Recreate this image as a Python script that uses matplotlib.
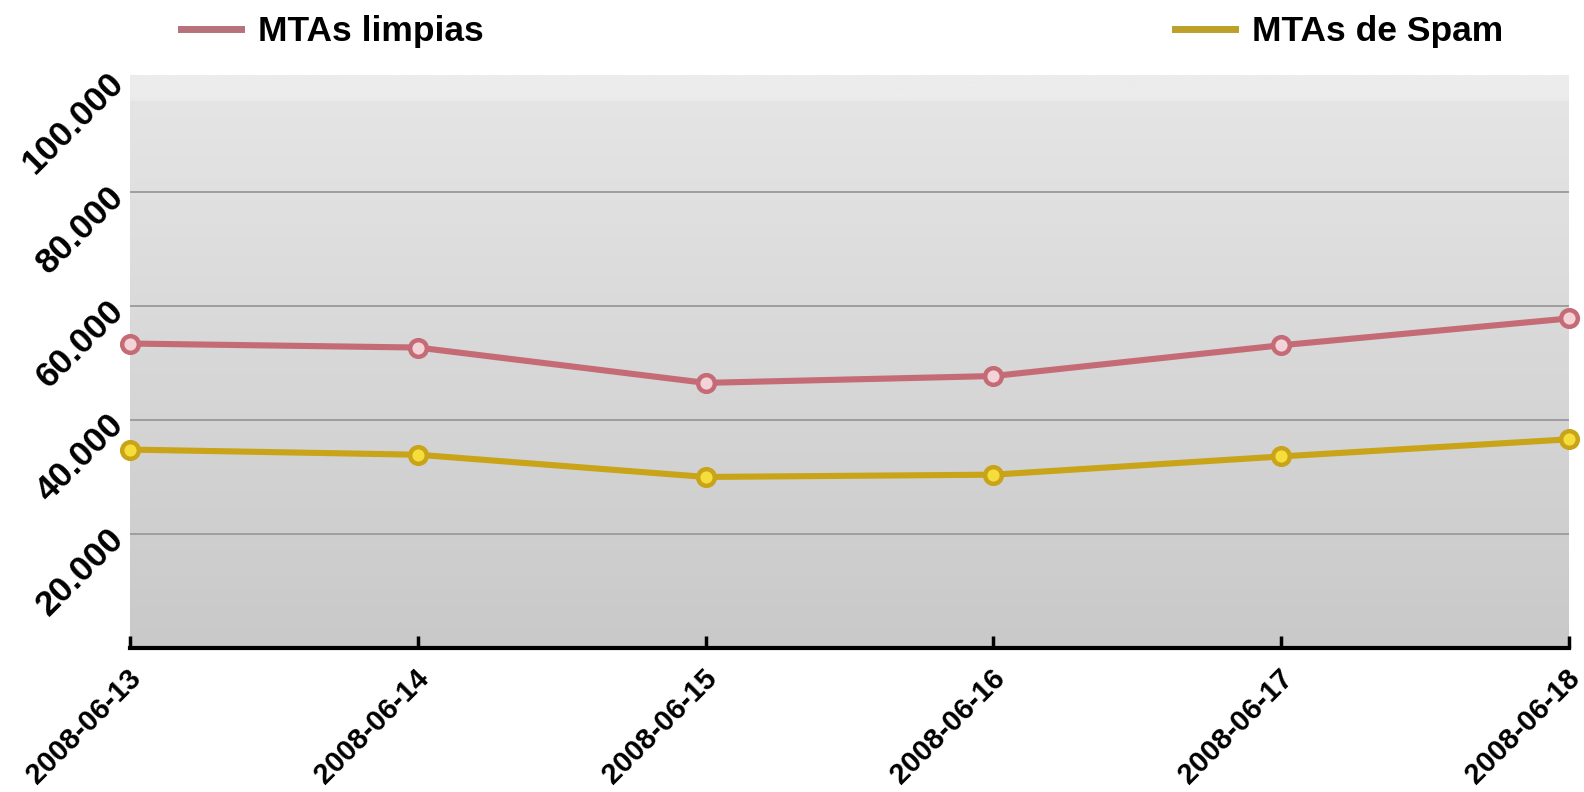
import numpy as np
import matplotlib
matplotlib.use("Agg")
import matplotlib.pyplot as plt
from matplotlib.lines import Line2D
from matplotlib.colors import LinearSegmentedColormap
from matplotlib.transforms import ScaledTranslation

dates = ["2008-06-13", "2008-06-14", "2008-06-15", "2008-06-16", "2008-06-17", "2008-06-18"]
limpias = [53400, 52700, 46500, 47700, 53100, 57800]
spam = [34800, 33900, 30000, 30400, 33600, 36600]
yticks = [20000, 40000, 60000, 80000, 100000]
ytick_labels = ["20.000", "40.000", "60.000", "80.000", "100.000"]
series_names = ["MTAs limpias", "MTAs de Spam"]

red = "#c46b76"
red_face = "#f3d3d8"
yel = "#c9a418"
yel_face = "#f5de3c"

plt.rcParams['font.family'] = ['Liberation Sans', 'DejaVu Sans']

fig = plt.figure(figsize=(15.84, 7.92), dpi=100)
ax = fig.add_axes([130/1584, 1-648/792, (1569-130)/1584, (648-75)/792])

x = np.arange(len(dates))
ax.set_xlim(0, len(dates) - 1)
ax.set_ylim(0, 100500)

# gradient background
cmap = LinearSegmentedColormap.from_list("bg", [(0, "#c9c9c9"), (0.96, "#e5e5e5"), (0.961, "#ececec"), (1, "#ececec")])
grad = np.linspace(0, 1, 400).reshape(-1, 1)
ax.imshow(grad, extent=[0, 1, 0, 1], transform=ax.transAxes, aspect='auto', cmap=cmap, origin='lower', zorder=0)

for yv in yticks[:-1]:
    ax.axhline(yv, color="#9e9e9e", lw=1.4, zorder=1)

ax.plot(x, limpias, color=red, lw=4.4, marker='o', ms=12, mfc=red_face, mec=red, mew=3.2, zorder=3, clip_on=False)
ax.plot(x, spam, color=yel, lw=4.4, marker='o', ms=12, mfc=yel_face, mec=yel, mew=3.2, zorder=3, clip_on=False)

for s in ['left', 'right', 'top']:
    ax.spines[s].set_visible(False)
ax.spines['bottom'].set_linewidth(3)
ax.spines['bottom'].set_color('black')

ax.set_xticks(x)
ax.set_xticklabels(dates, rotation=45, ha='right', va='center', rotation_mode='anchor',
                   fontsize=21, fontweight='bold')
ax.tick_params(axis='x', direction='in', length=9, width=2.5, color='black', pad=19)
off = ScaledTranslation(7/100, 0, fig.dpi_scale_trans)
for lab in ax.get_xticklabels():
    lab.set_transform(lab.get_transform() + off)
ax.set_yticks(yticks)
ax.set_yticklabels(ytick_labels, rotation=45, ha='right', va='center', rotation_mode='anchor',
                   fontsize=25.5, fontweight='bold')
ax.tick_params(axis='y', length=0, pad=8)

h1 = Line2D([], [], color="#b8707a", lw=5)
h2 = Line2D([], [], color="#bca02a", lw=5)
fs = 25.5
fig.legend([h1], [series_names[0]], loc='center left', bbox_to_anchor=(181/1584, 1-32/792),
           frameon=False, borderpad=0, borderaxespad=0, handlelength=1.68, handletextpad=0.5,
           prop={'size': fs, 'weight': 'bold'})
fig.legend([h2], [series_names[1]], loc='center left', bbox_to_anchor=(1175/1584, 1-32/792),
           frameon=False, borderpad=0, borderaxespad=0, handlelength=1.68, handletextpad=0.5,
           prop={'size': fs, 'weight': 'bold'})

fig.savefig("out.png", dpi=100, facecolor='white')
